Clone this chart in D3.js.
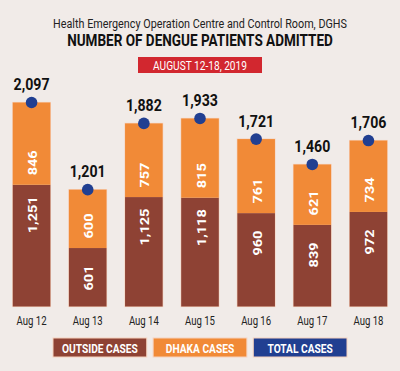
<!DOCTYPE html>
<html><head><meta charset="utf-8">
<script src="https://cdn.jsdelivr.net/npm/d3@7"></script>
<style>
html,body{margin:0;padding:0;background:#f1ebe8;}
svg{display:block;}
text{font-family:Roboto,"Liberation Sans",sans-serif;}
</style></head>
<body>
<svg id="c" width="400" height="371"></svg>
<script>
const categories = ["Aug 12","Aug 13","Aug 14","Aug 15","Aug 16","Aug 17","Aug 18"];
const outsideCases = [1251, 601, 1125, 1118, 960, 839, 972];
const dhakaCases = [846, 600, 757, 815, 761, 621, 734];
const totalCases = [2097, 1201, 1882, 1933, 1721, 1460, 1706];
const legendLabels = ["OUTSIDE CASES","DHAKA CASES","TOTAL CASES"];

const colors = {outside:"#8e4234", dhaka:"#f18a37", total:"#213f91", red:"#d2272f", bg:"#f1ebe8", edge:"#f6d2bd"};
const svg = d3.select("#c");
svg.append("rect").attr("width",400).attr("height",371).attr("fill",colors.bg);

const x = d3.scaleBand().domain(categories).range([3.5, 396.5]).paddingInner(0.33).paddingOuter(0.165);
const y = d3.scaleLinear().domain([0, 2097]).range([306.5, 102.5]);
const fmt = d3.format(",");

function factor(sample, size, weight, target){
  const t = svg.append("text").attr("font-size",size).attr("font-weight",weight).text(sample);
  const w = t.node().getComputedTextLength();
  t.remove();
  return target / w;
}
function ctext(parent, tx, ty, rot, f, size, weight, fill, str, anchor){
  const gg = parent.append("g").attr("transform",`translate(${tx},${ty})${rot?` rotate(${rot})`:""} scale(${f},1)`);
  gg.append("text").attr("text-anchor",anchor||"middle").attr("font-size",size).attr("font-weight",weight)
    .attr("fill",fill).text(str);
  return gg;
}

// Title
const fT1 = factor("Health Emergency Operation Centre and Control Room, DGHS",13.5,"normal",294);
ctext(svg,200,28,0,fT1,13.5,"normal","#222","Health Emergency Operation Centre and Control Room, DGHS");
const fT2 = factor("NUMBER OF DENGUE PATIENTS ADMITTED",16.5,"bold",266);
ctext(svg,200,45.5,0,fT2,16.5,"bold","#111","NUMBER OF DENGUE PATIENTS ADMITTED");
svg.append("rect").attr("x",138).attr("y",57).attr("width",124).attr("height",16).attr("fill",colors.red);
const fT3 = factor("AUGUST 12-18,  2019",13.5,"normal",94);
ctext(svg,200,70,0,fT3,13.5,"normal","#fff","AUGUST 12-18,  2019");

const fTot = factor("2,097",16.5,"bold",36);
const fIn = factor("1,251",13,"bold",37);
const g = svg.append("g");
categories.forEach((c,i)=>{
  const bx = x(c), bw = x.bandwidth(), cx = bx + bw/2;
  const o = outsideCases[i], d = dhakaCases[i], t = totalCases[i];
  g.append("rect").attr("x",bx).attr("y",y(o+d)).attr("width",bw).attr("height",y(0)-y(o+d))
    .attr("fill","none").attr("stroke",colors.edge).attr("stroke-width",1.2);
  g.append("rect").attr("x",bx).attr("y",y(o)).attr("width",bw).attr("height",y(0)-y(o)).attr("fill",colors.outside);
  g.append("rect").attr("x",bx).attr("y",y(o+d)).attr("width",bw).attr("height",y(o)-y(o+d)).attr("fill",colors.dhaka);
  const boundary = y(o);
  ctext(g, cx+5.5, boundary-22, -90, fIn, 13, "bold", "#fff", fmt(d));
  ctext(g, cx+5.5, boundary+30, -90, fIn, 13, "bold", "#fff", fmt(o));
  g.append("circle").attr("cx",cx).attr("cy",y(t)).attr("r",5.8).attr("fill",colors.total);
  ctext(g, cx, y(t)-12.5, 0, fTot, 16.5, "bold", "#111", fmt(t));
});

// x axis labels
const fCat = factor("Aug 12",13.5,"normal",30);
const xAxis = d3.axisBottom(x).tickSize(0).tickPadding(0);
const ax = svg.append("g").attr("transform","translate(0,325)").call(xAxis);
ax.select(".domain").remove();
ax.selectAll("text").attr("font-size",13.5).attr("fill","#222").attr("font-family",null)
  .attr("y",0).attr("dy",null).attr("transform",`scale(${fCat},1)`);

// legend
const legendColors = [colors.outside, colors.dhaka, colors.total];
const lx = d3.scaleBand().domain(legendLabels).range([53,347]).paddingInner(0.064);
const fLeg = factor("OUTSIDE CASES",13,"bold",76);
legendLabels.forEach((l,i)=>{
  svg.append("rect").attr("x",lx(l)).attr("y",338).attr("width",lx.bandwidth()).attr("height",19)
    .attr("fill",legendColors[i]).attr("stroke",colors.edge).attr("stroke-width",1);
  ctext(svg, lx(l)+lx.bandwidth()/2, 353, 0, fLeg, 13, "bold", "#fff", l);
});
</script>
</body></html>
